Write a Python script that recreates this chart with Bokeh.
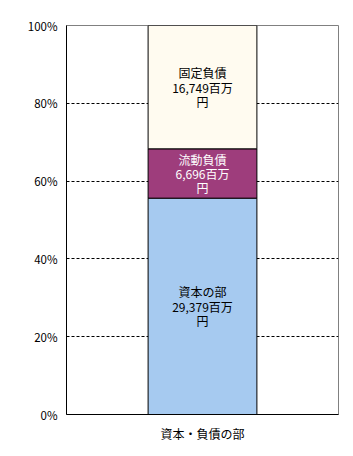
from bokeh.plotting import figure
from bokeh.models import ColumnDataSource, FactorRange, Range1d, FixedTicker, PrintfTickFormatter
from bokeh.core.properties import value
from bokeh.embed import file_html
from bokeh.resources import INLINE

category = ["資本・負債の部"]
segment_names = ["資本の部", "流動負債", "固定負債"]
segment_values = [29379, 6696, 16749]  # 百万円
segment_colors = ["#A6CAF0", "#9E3D7C", "#FFFBF0"]
label_colors = ["#000000", "#FFFFFF", "#000000"]
y_ticks = [0, 20, 40, 60, 80, 100]

total = sum(segment_values)
bottoms, tops, mids, labels = [], [], [], []
acc = 0.0
for n, v in zip(segment_names, segment_values):
    pct = v / total * 100
    bottoms.append(acc)
    tops.append(acc + pct)
    mids.append(acc + pct / 2)
    labels.append(f"{n}\n{v:,}百万\n円")
    acc += pct

src = ColumnDataSource(dict(
    x=category * len(segment_names), bottom=bottoms, top=tops, mid=mids,
    color=segment_colors, label=labels, tcolor=label_colors))

FONT = "Noto Sans CJK JP"
p = figure(width=353, height=456, x_range=FactorRange(*category, range_padding=0),
           y_range=Range1d(0, 100), output_backend="svg", toolbar_location=None,
           min_border_left=66, min_border_right=15, min_border_top=25, min_border_bottom=42)

p.vbar(x="x", bottom="bottom", top="top", width=0.4, fill_color="color",
       line_color="black", line_width=1, source=src)
p.text(x="x", y="mid", text="label", text_color="tcolor", text_align="center",
       text_baseline="middle", text_font=value(FONT), text_font_size="12px",
       text_line_height=0.85, source=src)

p.outline_line_color = "#808080"
p.xgrid.grid_line_color = None
p.ygrid.grid_line_color = "black"
p.ygrid.grid_line_dash = "3 2"
p.ygrid.ticker = FixedTicker(ticks=[20, 40, 60, 80])

p.yaxis.ticker = FixedTicker(ticks=y_ticks)
p.yaxis.formatter = PrintfTickFormatter(format="%d%%")
p.yaxis.major_tick_line_color = None
p.yaxis.minor_tick_line_color = None
p.yaxis.axis_line_color = "black"
p.yaxis.major_label_text_font = FONT
p.yaxis.major_label_text_font_size = "11.5px"
p.yaxis.major_label_text_color = "black"
p.yaxis.major_label_standoff = 3

p.xaxis.major_tick_line_color = None
p.xaxis.axis_line_color = "black"
p.xaxis.major_label_text_font = FONT
p.xaxis.major_label_text_font_size = "12px"
p.xaxis.major_label_text_color = "black"
p.xaxis.major_label_standoff = 4

open("out.html", "w").write(file_html(p, INLINE))
